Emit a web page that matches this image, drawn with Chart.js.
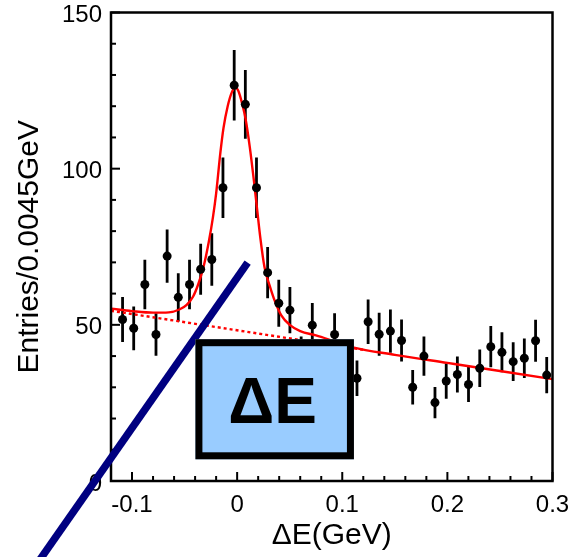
<!DOCTYPE html>
<html><head><meta charset="utf-8">
<script src="https://cdn.jsdelivr.net/npm/chart.js@4.4.0/dist/chart.umd.min.js"></script>
<style>html,body{margin:0;padding:0;background:#fff;overflow:hidden}canvas{display:block}</style>
</head><body>
<canvas id="c" width="571" height="557"></canvas>
<script>
// ---- data ----
const binCenters = [-0.1090,-0.0984,-0.0878,-0.0772,-0.0666,-0.0560,-0.0453,-0.0347,-0.0241,-0.0135,
  -0.0028,0.0078,0.0184,0.0290,0.0396,0.0502,0.0609,0.0715,0.0821,0.0927,
  0.1033,0.1140,0.1246,0.1351,0.1458,0.1564,0.1670,0.1777,0.1882,0.1989,
  0.2095,0.2201,0.2308,0.2413,0.2519,0.2626,0.2732,0.2839,0.2945];
const entries = [51.7,48.9,62.9,46.9,72.0,58.8,62.9,67.8,70.9,93.9,
  126.7,120.6,93.9,66.7,56.9,54.7,40.0,49.9,36.0,46.9,
  34.0,32.9,51.0,47.0,48.0,45.0,30.0,40.0,25.1,32.0,
  34.1,30.9,36.1,43.0,41.2,38.2,39.3,44.9,33.9];
const errors = [7.2,7.0,7.9,6.8,8.5,7.7,7.9,8.2,8.4,9.7,
  11.3,11.0,9.7,8.2,7.5,7.4,6.3,7.1,6.0,6.8,
  5.8,5.7,7.1,6.9,6.9,6.7,5.5,6.3,5.0,5.7,
  5.8,5.6,6.0,6.6,6.4,6.2,6.3,6.7,5.8];
const fitX = [-0.120,-0.100,-0.080,-0.065,-0.055,-0.048,-0.042,-0.037,-0.032,-0.027,
  -0.023,-0.020,-0.016,-0.013,-0.009,-0.005,-0.002,0.001,0.005,0.008,
  0.012,0.016,0.019,0.022,0.026,0.031,0.036,0.042,0.050,0.060,
  0.075,0.090,0.110,0.150,0.200,0.250,0.300];
const fitY = [55.2,54.4,53.9,54.0,54.9,56.4,59.0,63.0,68.5,76.5,
  84.5,92.0,105.0,113.0,120.0,124.5,126.0,125.0,120.5,116.0,
  107.0,96.0,87.0,78.0,68.5,62.5,57.5,53.0,50.0,48.0,
  46.6,45.0,42.8,40.4,37.8,35.2,32.6];
const bgX = [-0.120, 0.120];
const bgY = [54.5, 42.0];
const xTickValues = [-0.1, 0, 0.1, 0.2, 0.3];
const xTickLabels = ['-0.1', '0', '0.1', '0.2', '0.3'];
const yTickValues = [0, 50, 100, 150];
const yTickLabels = ['0', '50', '100', '150'];
const xTitle = 'ΔE(GeV)';
const yTitle = 'Entries/0.0045GeV';
const boxLabel = 'ΔE';

// ---- annotation geometry (in data units) ----
const arrowLine = {x1: 0.0100, y1: 69.9, x2: -0.1945, y2: -28.5};
const labelBox = {x1: -0.0397, x2: 0.1111, y1: 45.4, y2: 6.95};

const FONT = '"Liberation Sans", Arial, Helvetica, sans-serif';

const pts = binCenters.map((x, i) => ({x, y: entries[i]}));
const fitPts = fitX.map((x, i) => ({x, y: fitY[i]}));
const bgPts = bgX.map((x, i) => ({x, y: bgY[i]}));

const overlay = {
  id: 'overlay',
  beforeDraw(chart) {
    const ctx = chart.ctx;
    ctx.save(); ctx.fillStyle = '#fff'; ctx.fillRect(0, 0, chart.width, chart.height); ctx.restore();
  },
  beforeDatasetsDraw(chart) {
    const {ctx, chartArea: a, scales: {x, y}} = chart;
    ctx.save();
    ctx.beginPath(); ctx.rect(a.left, a.top, a.right - a.left, a.bottom - a.top); ctx.clip();
    ctx.strokeStyle = '#000'; ctx.lineWidth = 2.8;
    binCenters.forEach((bx, i) => {
      const px = x.getPixelForValue(bx);
      ctx.beginPath();
      ctx.moveTo(px, y.getPixelForValue(entries[i] - errors[i]));
      ctx.lineTo(px, y.getPixelForValue(entries[i] + errors[i]));
      ctx.stroke();
    });
    ctx.restore();
  },
  afterDatasetsDraw(chart) {
    const {ctx, chartArea: a, scales: {x, y}} = chart;
    ctx.save();
    ctx.strokeStyle = '#000'; ctx.lineWidth = 2.5;
    ctx.strokeRect(a.left, a.top, a.right - a.left, a.bottom - a.top);
    ctx.lineWidth = 2;
    for (let v = 0; v <= 150.001; v += 10) {
      const major = yTickValues.some(t => Math.abs(t - v) < 1e-6);
      const py = y.getPixelForValue(v);
      ctx.beginPath(); ctx.moveTo(a.left, py); ctx.lineTo(a.left + (major ? 9 : 5), py); ctx.stroke();
    }
    for (let k = -6; k <= 15; k++) {
      const v = k * 0.02;
      const major = xTickValues.some(t => Math.abs(t - v) < 1e-6);
      const px = x.getPixelForValue(v);
      ctx.beginPath(); ctx.moveTo(px, a.bottom); ctx.lineTo(px, a.bottom - (major ? 9 : 5)); ctx.stroke();
    }
    ctx.restore();
  },
  afterDraw(chart) {
    const {ctx, scales: {x, y}} = chart;
    ctx.save();
    ctx.strokeStyle = '#000080'; ctx.lineWidth = 7.5; ctx.lineCap = 'butt';
    ctx.beginPath();
    ctx.moveTo(x.getPixelForValue(arrowLine.x1), y.getPixelForValue(arrowLine.y1));
    ctx.lineTo(x.getPixelForValue(arrowLine.x2), y.getPixelForValue(arrowLine.y2));
    ctx.stroke();
    const L = x.getPixelForValue(labelBox.x1), R = x.getPixelForValue(labelBox.x2);
    const T = y.getPixelForValue(labelBox.y1), B = y.getPixelForValue(labelBox.y2);
    const bw = 7;
    ctx.fillStyle = '#99ccff';
    ctx.fillRect(L, T, R - L, B - T);
    ctx.strokeStyle = '#000'; ctx.lineWidth = bw; ctx.lineJoin = 'miter';
    ctx.strokeRect(L + bw / 2, T + bw / 2, R - L - bw, B - T - bw);
    ctx.fillStyle = '#000';
    ctx.font = 'bold 64px ' + FONT;
    ctx.textAlign = 'center'; ctx.textBaseline = 'alphabetic';
    ctx.fillText(boxLabel, (L + R) / 2 - 2, (T + B) / 2 + 23.5);
    ctx.restore();
  }
};

new Chart(document.getElementById('c'), {
  type: 'scatter',
  data: {
    datasets: [
      {label: 'data', data: pts, order: 0, showLine: false,
       pointStyle: 'circle', pointRadius: 4.5, pointBackgroundColor: '#000', pointBorderColor: '#000', pointBorderWidth: 0},
      {label: 'fit', data: fitPts, order: 1, showLine: true, borderColor: '#ff0000', borderWidth: 2.4,
       pointRadius: 0, cubicInterpolationMode: 'monotone', fill: false},
      {label: 'background', data: bgPts, order: 2, showLine: true, borderColor: '#ff0000', borderWidth: 2.4,
       borderDash: [3, 3], pointRadius: 0, fill: false}
    ]
  },
  options: {
    responsive: false, animation: false, devicePixelRatio: 1,
    layout: {padding: {top: 12.5, right: 18.5, left: 0, bottom: 0}},
    plugins: {legend: {display: false}, tooltip: {enabled: false}},
    scales: {
      x: {
        type: 'linear', min: -0.12, max: 0.3,
        grid: {display: false, drawTicks: false}, border: {display: false},
        afterBuildTicks: s => { s.ticks = xTickValues.map(v => ({value: v})); },
        ticks: {callback: (v, i) => xTickLabels[i], font: {family: FONT, size: 24}, color: '#000',
                padding: 10, maxRotation: 0, autoSkip: false},
        title: {display: true, text: xTitle, color: '#000', font: {family: FONT, size: 30, lineHeight: 1.2},
                padding: {top: 0, bottom: 3}},
        afterFit: s => { s.height = 76; s.paddingLeft = 0; s.paddingRight = 0; }
      },
      y: {
        type: 'linear', min: 0, max: 150,
        grid: {display: false, drawTicks: false}, border: {display: false},
        afterBuildTicks: s => { s.ticks = yTickValues.map(v => ({value: v})); },
        ticks: {callback: (v, i) => yTickLabels[i], font: {family: FONT, size: 24}, color: '#000',
                padding: 9, labelOffset: 3, autoSkip: false},
        title: {display: true, text: yTitle, color: '#000', font: {family: FONT, size: 30, lineHeight: 1.2},
                padding: {top: 12, bottom: 0}},
        afterFit: s => { s.width = 111; s.paddingTop = 0; s.paddingBottom = 0; }
      }
    }
  },
  plugins: [overlay]
});
</script>
</body></html>
